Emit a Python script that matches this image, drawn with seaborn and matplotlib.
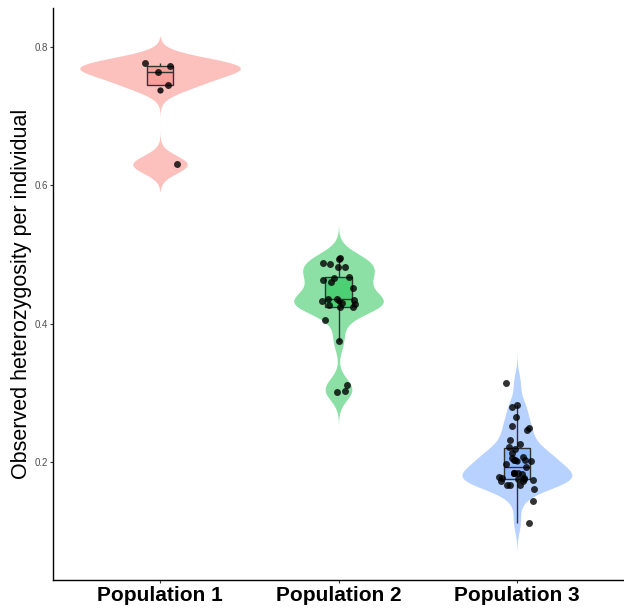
import numpy as np
import pandas as pd
import matplotlib
matplotlib.use("Agg")
import matplotlib.pyplot as plt
import seaborn as sns
from matplotlib.colors import to_rgb

# Observed heterozygosity per individual, by population
populations = ["Population 1", "Population 2", "Population 3"]
pop1_ho = [0.776, 0.7715, 0.764, 0.745, 0.630]
pop2_ho = [0.495, 0.493, 0.487, 0.486, 0.482, 0.482, 0.467, 0.466, 0.463,
           0.460, 0.452, 0.436, 0.435, 0.434, 0.433, 0.430, 0.428, 0.427,
           0.424, 0.424, 0.405, 0.375, 0.311, 0.303, 0.301]
pop3_ho = [0.3145, 0.282, 0.279, 0.265, 0.2515, 0.2495, 0.246, 0.232,
           0.2255, 0.222, 0.219, 0.213, 0.207, 0.206, 0.203, 0.203, 0.203,
           0.201, 0.197, 0.193, 0.184, 0.184, 0.183, 0.184, 0.184, 0.178,
           0.177, 0.177, 0.176, 0.175, 0.174, 0.173, 0.172, 0.167, 0.167,
           0.167, 0.161, 0.143, 0.112]
y_ticks = [0.2, 0.4, 0.6, 0.8]
y_tick_labels = ["0.2", "0.4", "0.6", "0.8"]
base_colors = ["#F8766D", "#00BA38", "#619CFF"]

df = pd.DataFrame({
    "population": np.repeat(populations, [len(pop1_ho), len(pop2_ho), len(pop3_ho)]),
    "ho": pop1_ho + pop2_ho + pop3_ho,
})


def tint(color, alpha):
    """Colour as it looks when drawn with the given alpha on white."""
    rgb = np.array(to_rgb(color))
    return tuple(alpha * rgb + (1 - alpha))


violin_colors = [tint(c, 0.45) for c in base_colors]
box_colors = [tint(c, 0.70) for c in base_colors]


def nrd0_factor(kde):
    """Silverman's rule-of-thumb bandwidth, per group, as a factor of the sd."""
    x = np.asarray(kde.dataset).ravel()
    sd = x.std(ddof=1)
    q75, q25 = np.percentile(x, [75, 25])
    lo = min(sd, (q75 - q25) / 1.34)
    return 0.9 * lo * len(x) ** -0.2 / sd


sns.set_style("ticks")
plt.rcParams["font.family"] = ["Liberation Sans", "DejaVu Sans"]

fig = plt.figure(figsize=(6.24, 6.08), dpi=100)
ax = fig.add_axes([53 / 624, 28 / 608, 571 / 624, 572 / 608])

sns.violinplot(data=df, x="population", y="ho", hue="population",
               order=populations, hue_order=populations, palette=violin_colors,
               width=0.9, cut=3, gridsize=512, bw_method=nrd0_factor,
               density_norm="area", common_norm=True, inner=None,
               linewidth=0, saturation=1, legend=False, ax=ax)

sns.boxplot(data=df, x="population", y="ho", hue="population",
            order=populations, hue_order=populations, palette=box_colors,
            width=0.15, showfliers=False, showcaps=False,
            linecolor="#333333", linewidth=1.0,
            saturation=1, legend=False, ax=ax)

np.random.seed(7)
sns.stripplot(data=df, x="population", y="ho", order=populations,
              color="black", alpha=0.8, size=5, jitter=0.1, ax=ax)

sns.pointplot(data=df, x="population", y="ho", order=populations,
              estimator="mean", errorbar=None, color="black",
              linestyle="none", markers="o", markersize=4.5,
              markeredgewidth=0, alpha=0.85, ax=ax)

ax.set_xlim(-0.6, 2.6)
ax.set_ylim(0.0294, 0.856)
ax.set_yticks(y_ticks)
ax.set_yticklabels(y_tick_labels)
ax.set_xlabel("")
ax.set_ylabel("Observed heterozygosity per individual", fontsize=15.5,
              color="black", labelpad=2)

for side in ("top", "right"):
    ax.spines[side].set_visible(False)
for side in ("left", "bottom"):
    ax.spines[side].set_linewidth(1.0)
    ax.spines[side].set_color("black")

ax.tick_params(axis="y", length=2.2, width=0.8, color="#333333",
               labelsize=7, labelcolor="#4D4D4D", pad=1.5)
ax.tick_params(axis="x", length=2.2, width=0.8, color="#333333",
               labelsize=15, labelcolor="black", pad=2)
for lab in ax.get_xticklabels():
    lab.set_fontweight("bold")

fig.savefig("out.png", dpi=100)
